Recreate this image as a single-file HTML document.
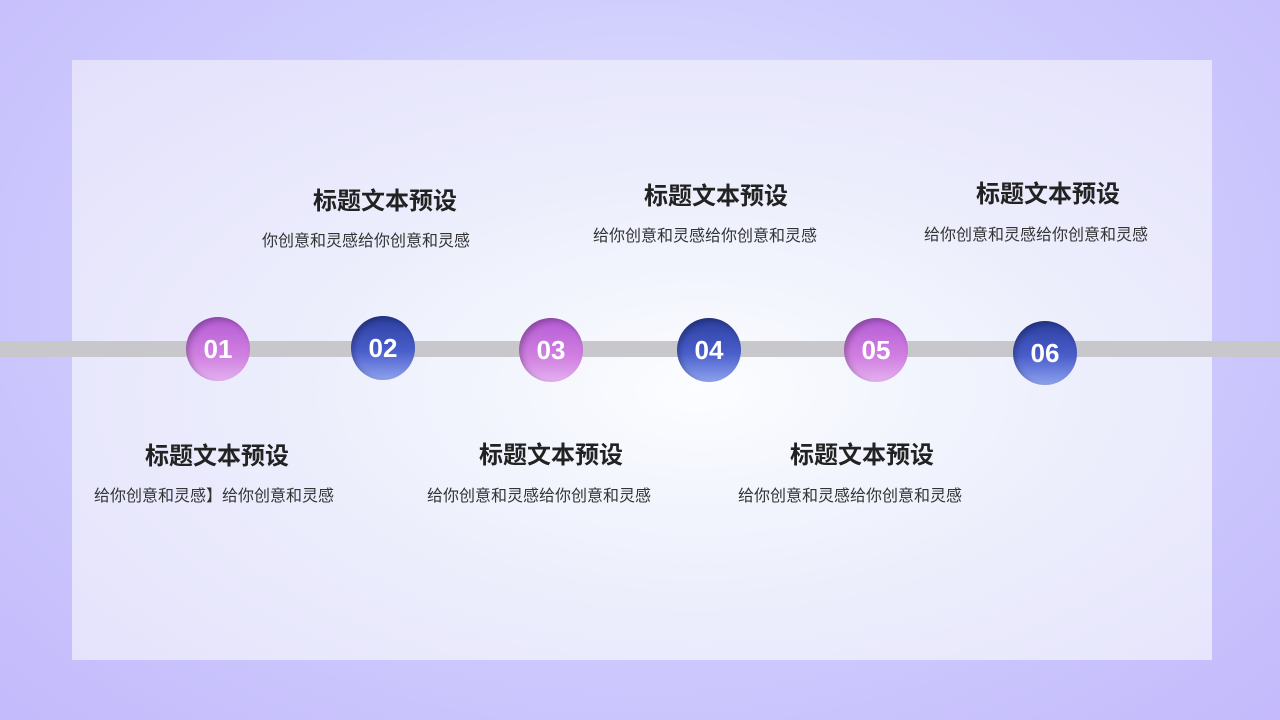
<!DOCTYPE html>
<html><head><meta charset="utf-8"><style>
body{margin:0;width:1280px;height:720px;overflow:hidden;position:relative;
background:radial-gradient(ellipse at 50% 40%,#e4e4ff 0%,#cfcdfd 50%,#c4bafc 100%);
font-family:"Liberation Sans","Noto Sans CJK SC",sans-serif;}
.panel{position:absolute;left:72px;top:60px;width:1140px;height:600px;
background:radial-gradient(ellipse at 55% 55%,#fbfdff 0%,#eceefc 45%,#e4e0fc 100%);}
.line{position:absolute;left:0;top:341px;width:1280px;height:16px;background:#c8c8cc;}
.c{position:absolute;width:64px;height:64px;border-radius:50%;color:#fff;font-weight:bold;font-size:26px;
text-align:center;line-height:64px;box-shadow:inset 3px 3px 6px rgba(0,0,0,.25);}
.p{background:linear-gradient(180deg,#b55cd6 0%,#d07fe0 60%,#e3b0f0 100%);}
.b{background:linear-gradient(180deg,#2b3f9f 0%,#4a5ecc 55%,#8ea2ee 100%);}
.t{position:absolute;font-size:24px;line-height:28px;font-weight:bold;color:#222;text-align:center;width:300px;}
.s{position:absolute;font-size:16px;line-height:20px;color:#333;text-align:center;width:300px;}
</style></head><body>
<div class="panel"></div>
<div class="line"></div>
<div class="c p" style="left:186px;top:317px">01</div>
<div class="c b" style="left:351px;top:316px">02</div>
<div class="c p" style="left:519px;top:318px">03</div>
<div class="c b" style="left:677px;top:318px">04</div>
<div class="c p" style="left:844px;top:318px">05</div>
<div class="c b" style="left:1013px;top:321px">06</div>
<div class="t" style="left:235px;top:188px">标题文本预设</div>
<div class="s" style="left:216px;top:232px">你创意和灵感给你创意和灵感</div>
<div class="t" style="left:566px;top:183px">标题文本预设</div>
<div class="s" style="left:555px;top:227px">给你创意和灵感给你创意和灵感</div>
<div class="t" style="left:898px;top:181px">标题文本预设</div>
<div class="s" style="left:886px;top:226px">给你创意和灵感给你创意和灵感</div>
<div class="t" style="left:67px;top:443px">标题文本预设</div>
<div class="s" style="left:64px;top:487px">给你创意和灵感】给你创意和灵感</div>
<div class="t" style="left:401px;top:442px">标题文本预设</div>
<div class="s" style="left:389px;top:487px">给你创意和灵感给你创意和灵感</div>
<div class="t" style="left:712px;top:442px">标题文本预设</div>
<div class="s" style="left:700px;top:487px">给你创意和灵感给你创意和灵感</div>
</body></html>
